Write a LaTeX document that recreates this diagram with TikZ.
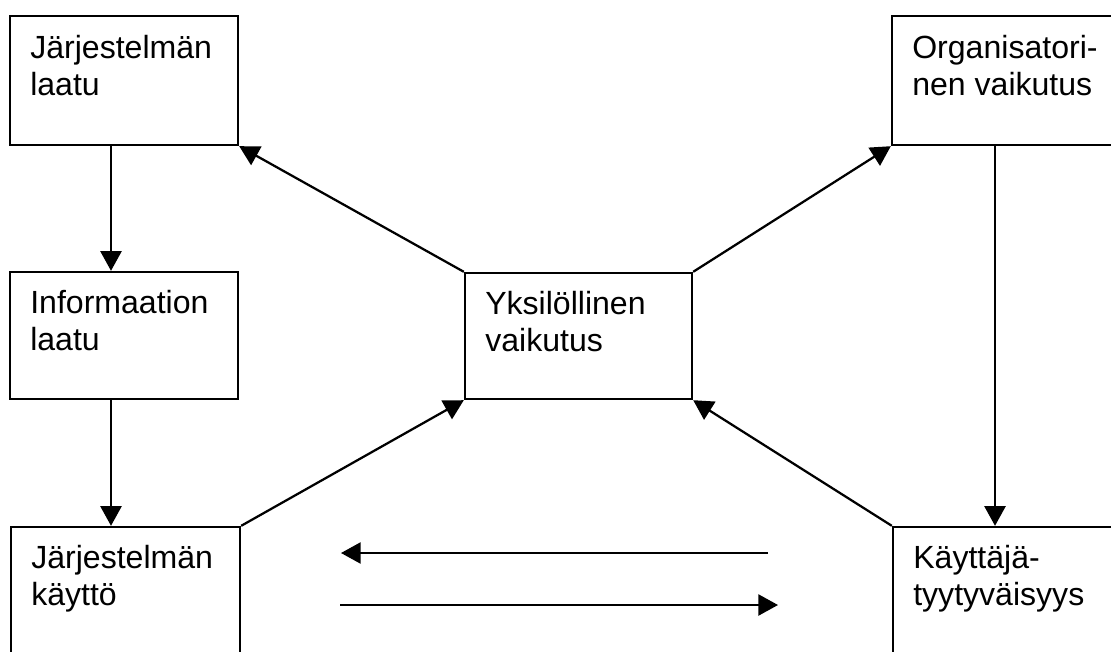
\documentclass[tikz,border=0pt]{standalone}
\usepackage{fontspec}
\setmainfont{Liberation Sans}
\usetikzlibrary{arrows.meta,fit}
\begin{document}
\begin{tikzpicture}[x=0.025cm,y=-0.025cm,
  box/.style={draw,line width=1.7pt,inner sep=0pt},
  lbl/.style={anchor=base west,align=left,inner sep=0pt,
    font=\fontsize{22.8}{26.2}\selectfont},
  arr/.style={line width=1.6pt,-{Triangle[length=14pt,width=15pt]}}]
\useasboundingbox (0,0) rectangle (1111,651);
\clip (0,0) rectangle (1111,651);
\fill[white] (0,0) rectangle (1111,651);

% box corners
\coordinate (a1) at (10,16);   \coordinate (a2) at (238,145);
\coordinate (b1) at (10,272);  \coordinate (b2) at (238,399);
\coordinate (c1) at (11,527);  \coordinate (c2) at (240,700);
\coordinate (d1) at (465,273); \coordinate (d2) at (692,399);
\coordinate (e1) at (892,16);  \coordinate (e2) at (1140,145);
\coordinate (f1) at (893,527); \coordinate (f2) at (1140,700);

% boxes
\node[box,fit=(a1)(a2)] (A) {};
\node[box,fit=(b1)(b2)] (B) {};
\node[box,fit=(c1)(c2)] (C) {};
\node[box,fit=(d1)(d2)] (D) {};
\node[box,fit=(e1)(e2)] (E) {};
\node[box,fit=(f1)(f2)] (F) {};

% box texts (anchored at the baseline of the last line)
\node[lbl] (tA) at (30,95) {Järjestelmän\\laatu};
\node[lbl] (tB) at (30,350) {Informaation\\laatu};
\node[lbl] (tC) at (31,605) {Järjestelmän\\käyttö};
\node[lbl] (tD) at (485,351) {Yksilöllinen\\vaikutus};
\node[lbl] (tE) at (912,95) {Organisatori-\\nen vaikutus};
\node[lbl] (tF) at (913,605) {Käyttäjä-\\tyytyväisyys};

% vertical connectors
\coordinate (xl) at (111,0);
\coordinate (xr) at (995,0);
\draw[arr] (A.south -| xl) -- (B.north -| xl);
\draw[arr] (B.south -| xl) -- (C.north -| xl);
\draw[arr] (E.south -| xr) -- (F.north -| xr);

% diagonal connectors
\draw[arr] (D.north west) -- (A.south east);
\draw[arr] (D.north east) -- (E.south west);
\draw[arr] (C.north east) -- (D.south west);
\draw[arr] (F.north west) -- (D.south east);

% horizontal arrows
\coordinate (h1s) at (768,553);
\coordinate (h1e) at (341,553);
\coordinate (h2s) at (340,605);
\coordinate (h2e) at (778,605);
\draw[arr] (h1s) -- (h1e);
\draw[arr] (h2s) -- (h2e);
\end{tikzpicture}
\end{document}
